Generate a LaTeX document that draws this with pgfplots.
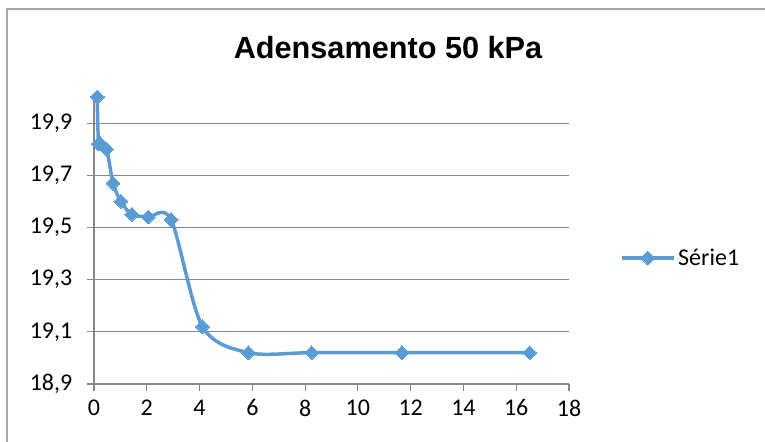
\documentclass[border=0pt]{standalone}
\usepackage{fontspec}
\setmainfont{Carlito}
\newfontfamily\titlefont{Liberation Sans}
\usepackage{pgfplots}
\pgfplotsset{compat=1.18}

\definecolor{serie}{RGB}{91,155,213}
\definecolor{grade}{RGB}{134,134,134}
\definecolor{moldura}{RGB}{166,166,166}

\begin{document}
\begin{tikzpicture}
\path[use as bounding box] (0,0) rectangle (573.75pt,331.5pt);
% moldura do grafico (cortada a direita e embaixo)
\draw[moldura, line width=0.8pt] (5.25pt,-10pt) -- (5.25pt,324.75pt) -- (600pt,324.75pt);
\node[font=\titlefont\bfseries\fontsize{23}{27}\selectfont] at (291pt,295.5pt) {Adensamento 50 kPa};

\begin{axis}[
  at={(70.5pt,43.5pt)}, anchor=south west,
  scale only axis, width=356.25pt, height=215.25pt,
  xmin=0, xmax=18, ymin=18.9, ymax=20.0,
  xtick={0,2,...,18},
  ytick={18.9,19.1,19.3,19.5,19.7,19.9},
  axis x line=bottom, axis y line=left,
  axis line style={grade, line width=0.8pt, -},
  ymajorgrids, grid style={grade, line width=0.8pt},
  tick style={grade, line width=0.8pt},
  tick align=outside, major tick length=5.25pt,
  tick label style={font=\fontsize{18}{22}\selectfont},
  /pgf/number format/assume math mode=true,
  yticklabel style={/pgf/number format/.cd, use comma, fixed, fixed zerofill, precision=1, /tikz/.cd, xshift=-7.5pt},
  xticklabel style={yshift=-3pt},
  clip=false,
  legend style={draw=none, fill=none, at={(1.107,0.439)}, anchor=west,
    inner sep=0pt, nodes={inner sep=2pt}, font=\fontsize{18}{22}\selectfont},
  legend cell align=left,
  legend image code/.code={\draw[#1,mark repeat=2,mark phase=2] plot coordinates {(0pt,0pt)(19.5pt,0pt)(39pt,0pt)};},
]
\addplot[serie, line width=2.6pt, smooth, mark=square*, mark size=3.7pt,
  mark options={rotate=45, solid, line width=0pt, fill=serie}] coordinates {
  (0.12,20.00)
  (0.17,19.82)
  (0.25,19.82)
  (0.48,19.80)
  (0.72,19.67)
  (1.02,19.60)
  (1.43,19.55)
  (2.05,19.54)
  (2.92,19.53)
  (4.11,19.12)
  (5.85,19.02)
  (8.25,19.02)
  (11.67,19.02)
  (16.51,19.02)
};
\addlegendentry{Série1}
\end{axis}
\end{tikzpicture}
\end{document}
